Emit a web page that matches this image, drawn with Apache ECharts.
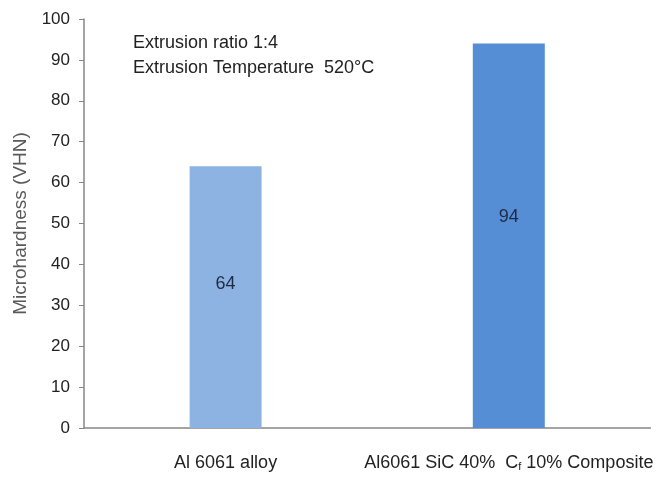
<!DOCTYPE html>
<html><head><meta charset="utf-8">
<script src="https://cdn.jsdelivr.net/npm/echarts@6/dist/echarts.min.js"></script>
<style>html,body{margin:0;padding:0;background:#fff}#c{width:656px;height:479px}</style>
</head><body><div id="c"></div>
<script>
var categories = ['Al 6061 alloy', 'Al6061 SiC 40%  C{sub|f} 10% Composite'];
var values = [64, 94];
var barColors = ['#8DB3E2', '#558ED5'];
var yTicks = {min: 0, max: 100, interval: 10};

var chart = echarts.init(document.getElementById('c'));
chart.setOption({
  animation: false,
  backgroundColor: '#fff',
  grid: {left: 84, right: 4, top: 19, bottom: 51},
  graphic: [
    {type: 'text', left: 133, top: 34, style: {text: 'Extrusion ratio 1:4', font: '18px "Liberation Sans", Arial', fill: '#222'}},
    {type: 'text', left: 133, top: 59, style: {text: 'Extrusion Temperature  520°C', font: '18px "Liberation Sans", Arial', fill: '#222'}}
  ],
  xAxis: {
    type: 'category',
    data: categories,
    axisLine: {lineStyle: {color: '#868686', width: 1.5}},
    axisTick: {show: false},
    axisLabel: {
      color: '#222', fontSize: 18, margin: 26, fontFamily: 'Liberation Sans',
      interval: 0,
      rich: {sub: {fontSize: 11, color: '#222', verticalAlign: 'bottom', padding: [7, 0, 0, 0]}}
    }
  },
  yAxis: {
    type: 'value',
    min: yTicks.min, max: yTicks.max, interval: yTicks.interval,
    name: 'Microhardness (VHN)',
    nameLocation: 'middle', nameGap: 52, nameRotate: 90,
    nameTextStyle: {color: '#595959', fontSize: 19, fontFamily: 'Liberation Sans'},
    axisLine: {show: true, lineStyle: {color: '#868686', width: 1.5}},
    axisTick: {show: true, length: 5, lineStyle: {color: '#868686'}},
    splitLine: {show: false},
    axisLabel: {color: '#222', fontSize: 17, margin: 14, fontFamily: 'Liberation Sans'}
  },
  series: [{
    type: 'bar',
    barWidth: 72,
    data: values.map(function (v, i) { return {value: v, itemStyle: {color: barColors[i]}}; }),
    label: {
      show: true, position: ['50%', '45%'], align: 'center', verticalAlign: 'middle',
      color: '#1F2A44', fontSize: 18, fontFamily: 'Liberation Sans'
    }
  }]
});
</script></body></html>
